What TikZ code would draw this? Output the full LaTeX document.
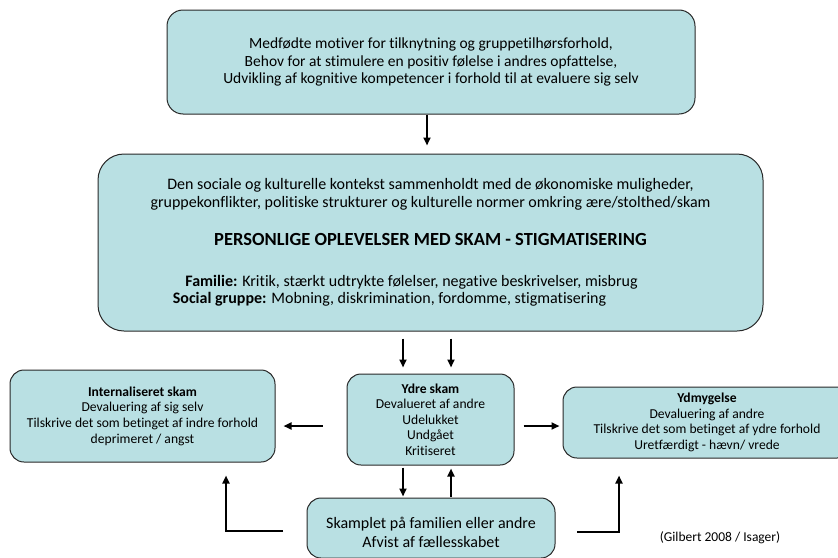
\documentclass[tikz,border=0pt]{standalone}
\usepackage{fontspec}
\setmainfont{Carlito}[Ligatures=NoCommon]
\usetikzlibrary{arrows.meta}
\definecolor{boxfill}{RGB}{185,224,227}
\definecolor{boxline}{RGB}{40,40,40}
\begin{document}
\begin{tikzpicture}[x=1pt,y=-1pt,
  box/.style={draw=boxline, line width=1pt, fill=boxfill, rounded corners=#1,
    align=center, inner sep=0pt, text=black},
  box/.default=14pt,
  small/.style={font=\fontsize{13.6}{15.6}\selectfont},
  arr/.style={line width=2pt, -{Triangle[length=8pt,width=7pt]}}]
\useasboundingbox (0,0) rectangle (838,557);
\clip (0,0) rectangle (838,557);

% top: innate motives
\node[box=16pt, minimum width=528pt, minimum height=104pt,
  font=\fontsize{15.5}{17.5}\selectfont] (origin) at (431,62)
  {Medfødte motiver for tilknytning og gruppetilhørsforhold,\\
   Behov for at stimulere en positiv følelse i andres opfattelse,\\
   Udvikling af kognitive kompetencer i forhold til at evaluere sig selv};

% social and cultural context
\node[box=26pt, minimum width=665pt, minimum height=177pt,
  font=\fontsize{16}{17.5}\selectfont] (context) at (430.5,242.5)
  {Den sociale og kulturelle kontekst sammenholdt med de økonomiske muligheder,\\
   gruppekonflikter, politiske strukturer og kulturelle normer omkring ære/stolthed/skam\\[20.5pt]
   {\fontsize{18.5}{19}\selectfont\bfseries PERSONLIGE OPLEVELSER MED SKAM - STIGMATISERING}\\[23.5pt]
   \textbf{Familie:} Kritik, stærkt udtrykte følelser, negative beskrivelser, misbrug\hspace*{38pt}\mbox{}\\
   \textbf{Social gruppe:} Mobning, diskrimination, fordomme, stigmatisering\hspace*{82pt}\mbox{}};

% bottom row
\node[box, small, minimum width=265pt, minimum height=92pt] (inner) at (142.5,416)
  {\textbf{Internaliseret skam}\\
   Devaluering af sig selv\\
   Tilskrive det som betinget af indre forhold\\
   deprimeret / angst};

\node[box, small, minimum width=167pt, minimum height=91pt] (ydre) at (430.5,419.5)
  {\textbf{Ydre skam}\\
   Devalueret af andre\\
   Udelukket\\
   Undgået\\
   Kritiseret};

\node[box, small, minimum width=288pt, minimum height=71pt] (ydmyg) at (707,422.5)
  {\textbf{Ydmygelse}\\
   Devaluering af andre\\
   Tilskrive det som betinget af ydre forhold\\
   Uretfærdigt - hævn/ vrede};

\node[box, minimum width=248pt, minimum height=60pt,
  font=\fontsize{16}{19}\selectfont] (stain) at (431,528)
  {\raisebox{-11pt}[0pt][0pt]{\begin{tabular}{@{}c@{}}Skamplet på familien eller andre\\
   Afvist af fællesskabet\end{tabular}}};

\node[font=\fontsize{13.5}{15}\selectfont, inner sep=0pt] (cite) at (720,538)
  {(Gilbert 2008 / Isager)};

% connectors
\draw[arr, shorten >=8pt] ([xshift=-4pt]origin.south)
  -- ([xshift=-4pt]origin.south |- context.north);

\draw[arr, shorten <=7pt, shorten >=6pt] ([xshift=-27.5pt]context.south)
  -- ([xshift=-27.5pt]context.south |- ydre.north);
\draw[arr, shorten <=7pt, shorten >=6pt] ([xshift=20.5pt]context.south)
  -- ([xshift=20.5pt]context.south |- ydre.north);

\draw[arr, shorten <=24pt, shorten >=8pt] ([yshift=-6.5pt]ydre.west)
  -- ([yshift=-6.5pt]ydre.west -| inner.east);
\draw[arr, shorten <=9pt, shorten >=3pt] ([yshift=-6.5pt]ydre.east)
  -- ([yshift=-6.5pt]ydre.east -| ydmyg.west);

\draw[arr, shorten <=2pt, shorten >=1pt] ([xshift=-27.5pt]ydre.south)
  -- ([xshift=-27.5pt]ydre.south |- stain.north);
\draw[arr, shorten <=1pt, shorten >=3pt] ([xshift=20.5pt]ydre.south |- stain.north)
  -- ([xshift=20.5pt]ydre.south);

\coordinate (lfoot) at (283,531);
\coordinate (lbend) at (226,531);
\draw[arr, shorten >=13pt] (lfoot) -- (lbend) -- (lbend |- inner.south);

\coordinate (rfoot) at (577,532);
\coordinate (rbend) at (619,532);
\draw[arr, shorten >=17pt] (rfoot) -- (rbend) -- (rbend |- ydmyg.south);
\end{tikzpicture}
\end{document}
